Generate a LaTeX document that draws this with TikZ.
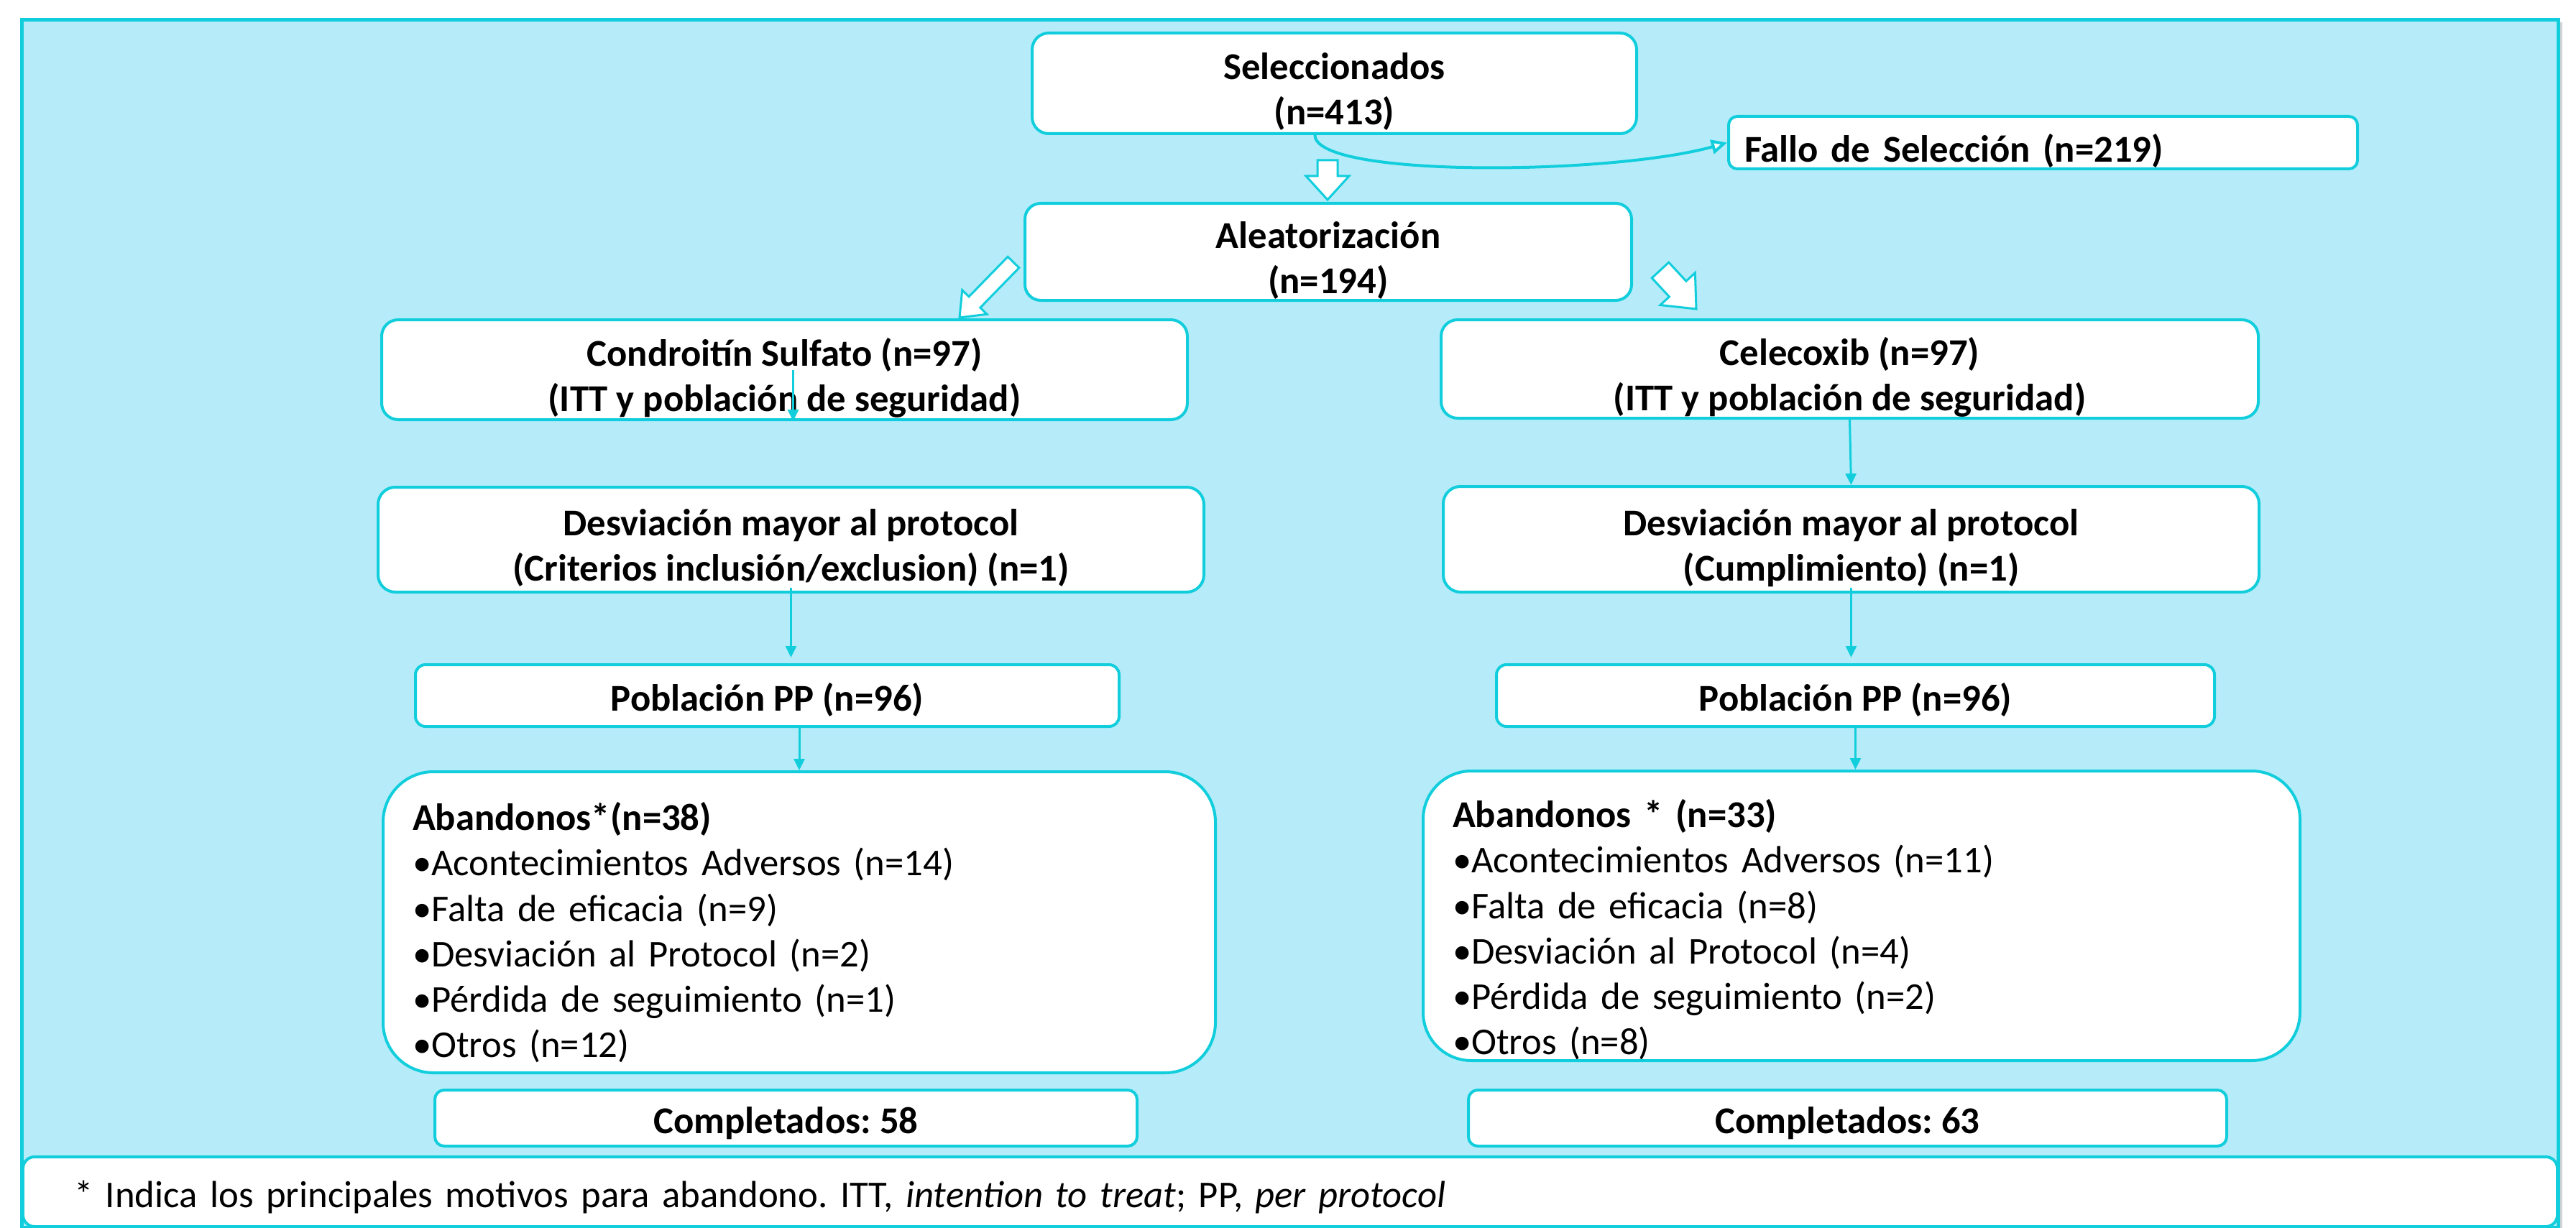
\documentclass[tikz,border=0pt]{standalone}
\usepackage{fontspec}
\setmainfont{Carlito}
\frenchspacing
\usetikzlibrary{calc,arrows.meta,shadows}
\definecolor{boxline}{RGB}{18,206,220}
\definecolor{panel}{RGB}{182,236,250}

\begin{document}
\begin{tikzpicture}[fat/.style n args={3}{draw=boxline, fill=white, line width=0.03cm,
    to path={($(\tikztostart)!#1!90:(\tikztotarget)$)
      -- ($(\tikztotarget)!#3!(\tikztostart)!#1!-90:(\tikztostart)$)
      -- ($(\tikztotarget)!#3!(\tikztostart)!#2!-90:(\tikztostart)$)
      -- (\tikztotarget)
      -- ($(\tikztotarget)!#3!(\tikztostart)!#2!90:(\tikztostart)$)
      -- ($(\tikztotarget)!#3!(\tikztostart)!#1!90:(\tikztostart)$)
      -- ($(\tikztostart)!#1!-90:(\tikztotarget)$) -- cycle}}]
	\tikzstyle{every node}+=[inner sep=0pt, font=\fontsize{15}{18}\selectfont]
	\tikzstyle{box}=[draw=boxline, line width=0.04cm, fill=white]
	\tikzstyle{head}=[box, align=center, font=\fontsize{15}{18}\selectfont\bfseries, text height=16.5pt, text depth=4pt]
	\tikzstyle{twoline}=[text height=33pt, text depth=0pt]
	\tikzstyle{list}=[box, align=left, font=\fontsize{15}{18}\selectfont]
	\tikzstyle{conn}=[draw=boxline, line width=0.03cm, -{Triangle[length=0.16cm,width=0.15cm]}]
	\useasboundingbox (0,0) rectangle (35.84,-17.09);
	\draw [draw=boxline, fill=panel, line width=0.05cm, drop shadow={shadow xshift=0.06cm, shadow yshift=-0.03cm, opacity=0.35}] (0.30,-0.28) rectangle (35.59,-17.08);
	\node [head, twoline, minimum width=8.41cm, minimum height=1.40cm, rounded corners=0.23cm] (sel) at (18.565,-1.16) {Seleccionados\\(n=413)};
	\node [head, align=left, text width=8.31cm, inner xsep=0.22cm, minimum height=0.73cm, rounded corners=0.12cm, text height=18pt, text depth=2.5pt] (fallo) at (28.425,-1.985) {Fallo de Selección (n=219)};
	\node [head, twoline, minimum width=8.44cm, minimum height=1.35cm, rounded corners=0.22cm] (alea) at (18.48,-3.505) {Aleatorización\\(n=194)};
	\node [head, twoline, minimum width=11.21cm, minimum height=1.39cm, rounded corners=0.23cm] (cs) at (10.915,-5.145) {Condroitín Sulfato (n=97)\\(ITT y población de seguridad)};
	\node [head, twoline, minimum width=11.37cm, minimum height=1.37cm, rounded corners=0.23cm] (cx) at (25.735,-5.135) {Celecoxib (n=97)\\(ITT y población de seguridad)};
	\node [head, twoline, minimum width=11.49cm, minimum height=1.46cm, rounded corners=0.24cm] (dvl) at (11.005,-7.51) {Desviación mayor al protocol\\(Criterios inclusión/exclusion) (n=1)};
	\node [head, twoline, minimum width=11.35cm, minimum height=1.47cm, rounded corners=0.24cm] (dvr) at (25.755,-7.505) {Desviación mayor al protocol\\(Cumplimiento) (n=1)};
	\node [head, minimum width=9.79cm, minimum height=0.86cm, rounded corners=0.14cm] (ppl) at (10.675,-9.68) {Población PP (n=96)};
	\node [head, minimum width=9.99cm, minimum height=0.86cm, rounded corners=0.14cm] (ppr) at (25.815,-9.68) {Población PP (n=96)};
	\node [list, text width=10.76cm, inner xsep=0.41cm, minimum height=4.19cm, rounded corners=0.70cm, text height=11pt, text depth=83.8pt] (abl) at (11.12,-12.835) {\textbf{Abandonos*(n=38)}\\•Acontecimientos Adversos (n=14)\\•Falta de eficacia (n=9)\\•Desviación al Protocol (n=2)\\•Pérdida de seguimiento (n=1)\\•Otros (n=12)};
	\node [list, text width=11.38cm, inner xsep=0.41cm, minimum height=4.03cm, rounded corners=0.67cm, text height=11pt, text depth=81pt] (abr) at (25.90,-12.745) {\textbf{Abandonos * (n=33)}\\•Acontecimientos Adversos (n=11)\\•Falta de eficacia (n=8)\\•Desviación al Protocol (n=4)\\•Pérdida de seguimiento (n=2)\\•Otros (n=8)};
	\node [head, minimum width=9.77cm, minimum height=0.78cm, rounded corners=0.13cm] (coml) at (10.935,-15.56) {Completados: 58};
	\node [head, minimum width=10.55cm, minimum height=0.78cm, rounded corners=0.13cm] (comr) at (25.705,-15.56) {Completados: 63};
	\node [list, text width=33.84cm, inner xsep=0.71cm, minimum height=0.97cm, rounded corners=0.16cm, text height=16.5pt, text depth=4pt] (note) at (17.95,-16.585) {* Indica los principales motivos para abandono. ITT, \textit{intention to treat}; PP, \textit{per protocol}};
	\coordinate (dnA) at (18.47,-2.23);
	\coordinate (dnB) at (18.47,-2.78);
	\coordinate (lfA) at (14.10,-3.65);
	\coordinate (lfB) at (13.35,-4.42);
	\coordinate (rtA) at (23.10,-3.76);
	\coordinate (rtB) at (23.60,-4.30);
	\draw [fat={0.14cm}{0.30cm}{0.33cm}] (dnA) to (dnB);
	\draw [fat={0.11cm}{0.24cm}{0.30cm}] (lfA) to (lfB);
	\draw [fat={0.16cm}{0.33cm}{0.38cm}] (rtA) to (rtB);
	\draw [draw=boxline, line width=0.04cm, -{Triangle[fill=white, length=0.22cm, width=0.2cm]}] ([xshift=-0.27cm]sel.south) .. controls +(0,-0.6) and +(-1.6,-0.45) .. (fallo.west);
	\draw [conn] ([xshift=0.12cm]cs.center) -- ([xshift=0.12cm]cs.south);
	\draw [conn] (cx.south) -- (dvr.north);
	\draw [conn] ([yshift=0.08cm]dvl.south) -- ([yshift=0.08cm]dvl.south |- ppl.north);
	\draw [conn] ([yshift=0.08cm]dvr.south) -- ([yshift=0.08cm]dvr.south |- ppr.north);
	\draw [conn] (abl.north |- ppl.south) -- (abl.north);
	\draw [conn] (ppr.south) -- (ppr.south |- abr.north);
\end{tikzpicture}
\end{document}
